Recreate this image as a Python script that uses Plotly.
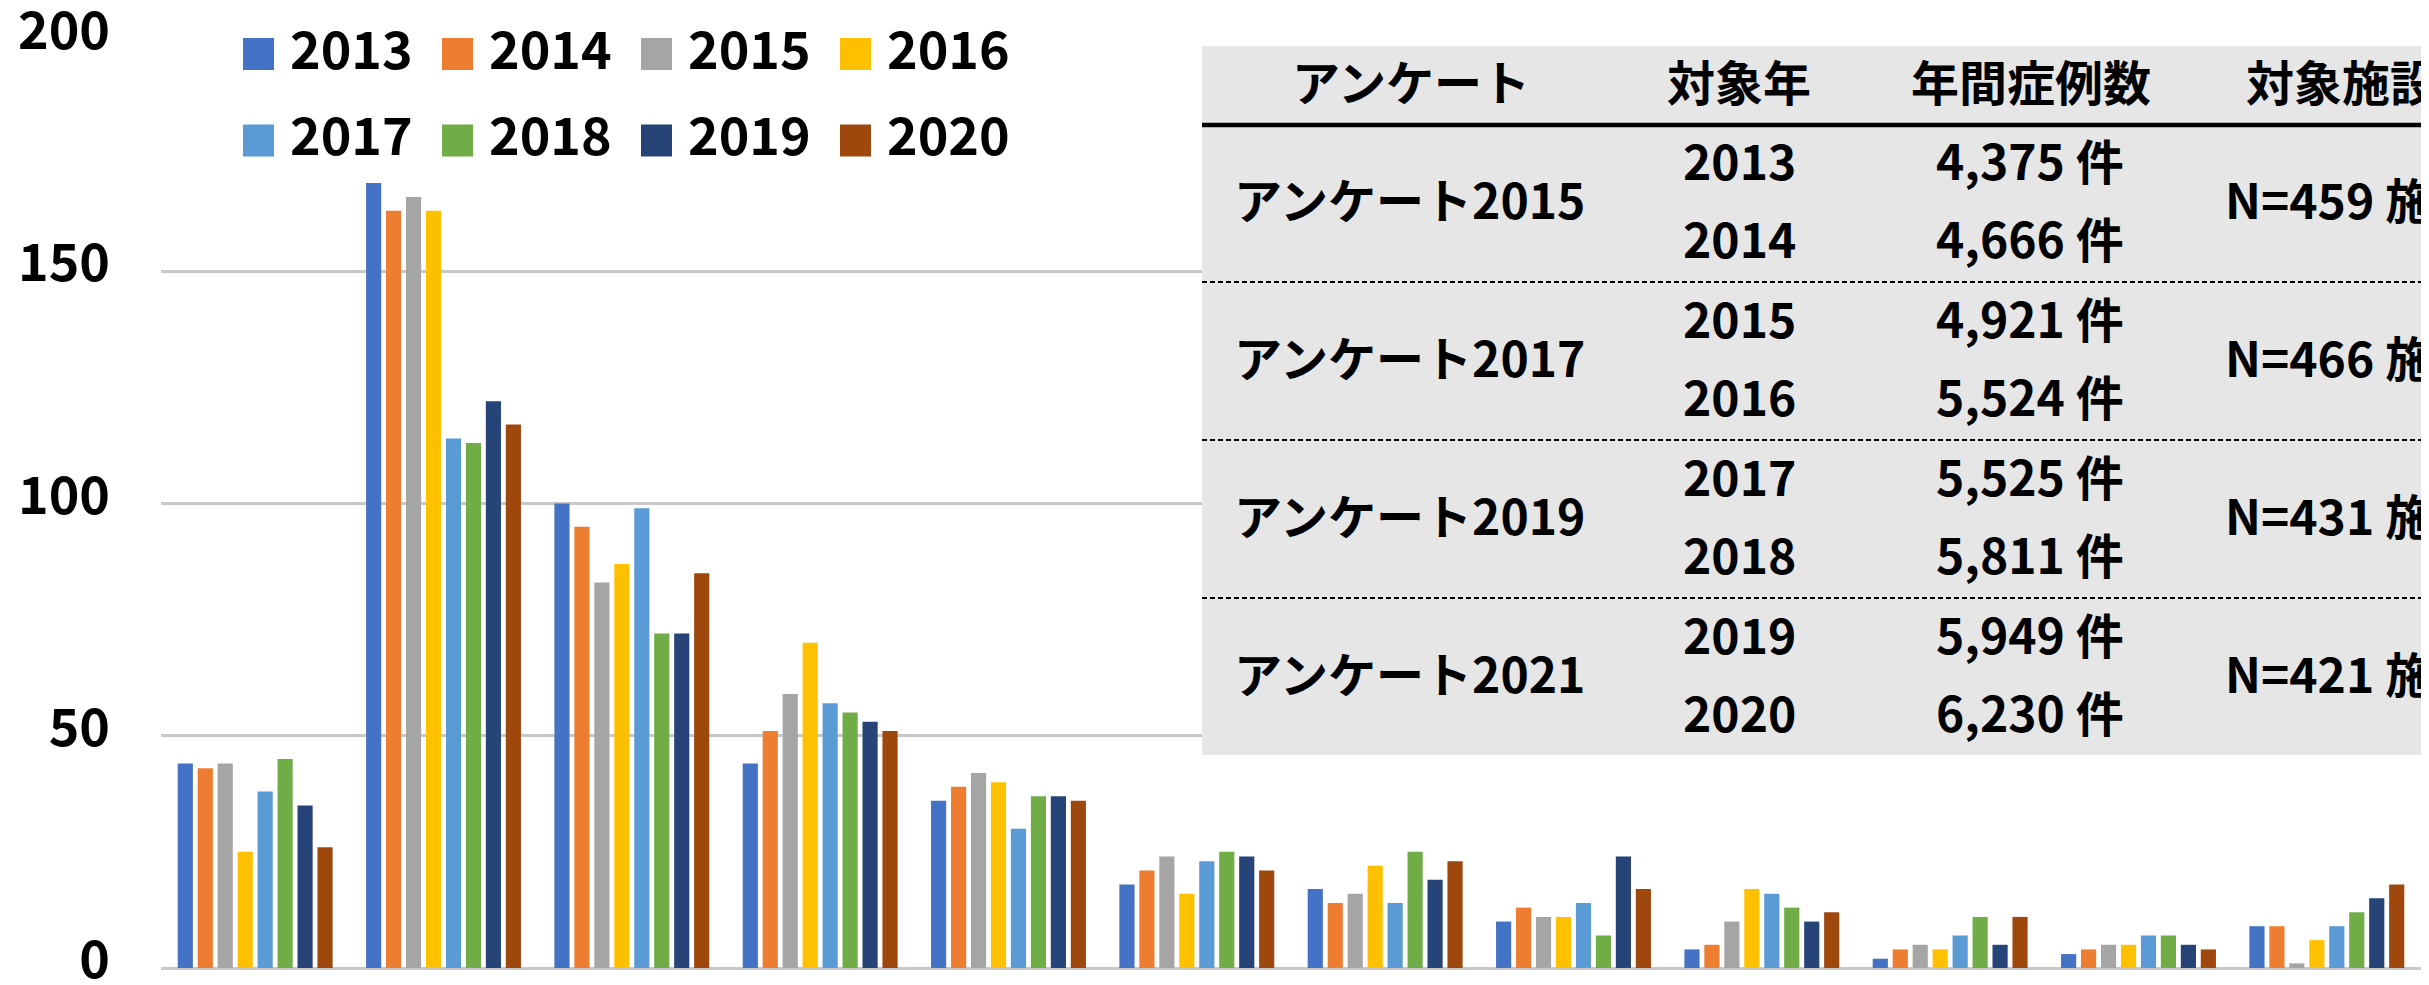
import plotly.graph_objects as go

# ---------------- data ----------------
categories = ["1", "2", "3", "4", "5", "6", "7", "8", "9", "10", "11", "12"]
years = ["2013", "2014", "2015", "2016", "2017", "2018", "2019", "2020"]
v2013 = [44, 169, 100, 44, 36, 18, 17, 10, 4, 2, 3, 9]
v2014 = [43, 163, 95, 51, 39, 21, 14, 13, 5, 4, 4, 9]
v2015 = [44, 166, 83, 59, 42, 24, 16, 11, 10, 5, 5, 1]
v2016 = [25, 163, 87, 70, 40, 16, 22, 11, 17, 4, 5, 6]
v2017 = [38, 114, 99, 57, 30, 23, 14, 14, 16, 7, 7, 9]
v2018 = [45, 113, 72, 55, 37, 25, 25, 7, 13, 11, 7, 12]
v2019 = [35, 122, 72, 53, 37, 24, 19, 24, 10, 5, 5, 15]
v2020 = [26, 117, 85, 51, 36, 21, 23, 17, 12, 11, 4, 18]
series = [v2013, v2014, v2015, v2016, v2017, v2018, v2019, v2020]
colors = ["#4472C4", "#ED7D31", "#A5A5A5", "#FFC000", "#5B9BD5", "#70AD47", "#264478", "#9E480E"]
y_ticks = [0, 50, 100, 150, 200]

# table content
table_header = ["アンケート", "対象年", "年間症例数", "対象施設数"]
survey_names = ["アンケート2015", "アンケート2017", "アンケート2019", "アンケート2021"]
target_years = [["2013", "2014"], ["2015", "2016"], ["2017", "2018"], ["2019", "2020"]]
case_counts = [["4,375 件", "4,666 件"], ["4,921 件", "5,524 件"], ["5,525 件", "5,811 件"], ["5,949 件", "6,230 件"]]
facilities = ["N=459 施設", "N=466 施設", "N=431 施設", "N=421 施設"]

# ---------------- layout geometry (page pixels) ----------------
FW, FH = 2429, 985
OFF = 8  # default body margin of the html page
ML, MR, MT, MB = 153, 16, 31, 25
PW, PH = FW - ML - MR, FH - MT - MB


def px(x):
    return (x - OFF - ML) / PW


def py(y):
    return (FH - MB - (y - OFF)) / PH


FONT = "Noto Sans CJK JP"

fig = go.Figure()
for name, vals, col in zip(years, series, colors):
    fig.add_trace(go.Bar(x=categories, y=vals, name=name, marker_color=col,
                         marker_line_width=0, showlegend=False))

shapes = []
annotations = []

# white backdrop behind the legend (hides the top gridline)
shapes.append(dict(type="rect", xref="paper", yref="paper", layer="above",
                   x0=px(217), x1=px(1014), y0=py(172), y1=py(18),
                   fillcolor="white", line_width=0))

# manual legend: two rows of four
for i, (name, col) in enumerate(zip(years, colors)):
    r, k = divmod(i, 4)
    x0 = 243 + 199 * k
    sy0 = 38 + 86.5 * r
    shapes.append(dict(type="rect", xref="paper", yref="paper", layer="above",
                       x0=px(x0), x1=px(x0 + 31), y0=py(sy0 + 32), y1=py(sy0),
                       fillcolor=col, line_width=0))
    annotations.append(dict(text=name, xref="paper", yref="paper", x=px(x0 + 45), y=py(46 + 86.5 * r),
                            xanchor="left", yanchor="middle", showarrow=False,
                            font=dict(family=FONT, size=52, color="black", weight="bold")))

# table box
shapes.append(dict(type="rect", xref="paper", yref="paper", layer="above",
                   x0=px(1202), x1=px(2460), y0=py(755), y1=py(46),
                   fillcolor="#E6E6E6", line_width=0))
shapes.append(dict(type="line", xref="paper", yref="paper", layer="above",
                   x0=px(1202), x1=px(2460), y0=py(125), y1=py(125),
                   line=dict(color="black", width=4.5)))
for yy in [282, 440, 598]:
    shapes.append(dict(type="line", xref="paper", yref="paper", layer="above",
                       x0=px(1202), x1=px(2460), y0=py(yy), y1=py(yy),
                       line=dict(color="black", width=2, dash="5px,3px")))

tfont = dict(family=FONT, size=48, color="black", weight="bold")
col_x = [1411, 1739, 2031, 2244]
DY = -3
for j, h in enumerate(table_header):
    anchor = "left" if j == 3 else "center"
    annotations.append(dict(text=h, xref="paper", yref="paper", x=px(col_x[j]), y=py(82.5 + DY),
                            xanchor=anchor, yanchor="middle", showarrow=False, font=tfont))
for i in range(4):
    top = 125 + 158 * i
    annotations.append(dict(text=survey_names[i], xref="paper", yref="paper", x=px(1409), y=py(top + 76 + DY),
                            xanchor="center", yanchor="middle", showarrow=False, font=tfont))
    for k in range(2):
        yc = top + (36.5 if k == 0 else 115) + DY
        annotations.append(dict(text=target_years[i][k], xref="paper", yref="paper", x=px(1739), y=py(yc),
                                xanchor="center", yanchor="middle", showarrow=False, font=tfont))
        annotations.append(dict(text=case_counts[i][k], xref="paper", yref="paper", x=px(2030), y=py(yc),
                                xanchor="center", yanchor="middle", showarrow=False, font=tfont))
    annotations.append(dict(text=facilities[i], xref="paper", yref="paper", x=px(2223), y=py(top + 76 + DY),
                            xanchor="left", yanchor="middle", showarrow=False, font=tfont))

fig.update_layout(
    width=FW, height=FH,
    margin=dict(l=ML, r=MR, t=MT, b=MB, autoexpand=False),
    paper_bgcolor="white", plot_bgcolor="white",
    barmode="group", bargap=0.152, bargroupgap=0.24,
    showlegend=False,
    shapes=shapes, annotations=annotations,
    xaxis=dict(type="category", showticklabels=False, showgrid=False, showline=False,
               ticks="", zeroline=False, automargin=False, fixedrange=True),
    yaxis=dict(range=[0, 200], tickvals=y_ticks, showgrid=True, gridcolor="#C8C8C8", gridwidth=3,
               zeroline=True, zerolinecolor="#C8C8C8", zerolinewidth=3, showline=False,
               ticks="", ticklabelstandoff=50, ticklabelshift=-8, ticklabeloverflow="allow",
               automargin=False,
               tickfont=dict(family=FONT, size=52, color="black", weight="bold")),
)

fig.write_html("out.html")
